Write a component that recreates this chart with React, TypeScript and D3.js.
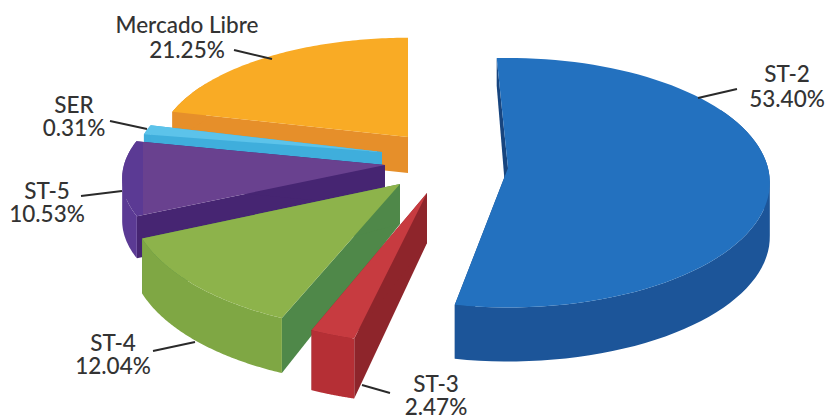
import React from "react";
import * as d3 from "d3";

const categories = ["ST-2", "ST-3", "ST-4", "ST-5", "SER", "Mercado Libre"];
const shares = [53.4, 2.47, 12.04, 10.53, 0.31, 21.25];
const shareLabels = ["53.40%", "2.47%", "12.04%", "10.53%", "0.31%", "21.25%"];

const faceColors = ["#2371BF", "#C73B40", "#8DB34B", "url(#st5Face)", "#5CC3EA", "#F9AB25"];
const rimColors = ["#1C5599", "#B52F35", "#7FA744", "#5B3A94", "#3FAEDC", "#E68F2A"];
const innerColors = ["#17457F", "#8E252B", "#4F8849", "#462572", "#3FAEDC", "#E68F2A"];

// Exploded-slice geometry: apex, in-plane radii, wall heights, angular nudges.
const apexX = [508, 427, 400, 385, 382, 408];
const apexY = [168, 193, 184, 165, 152, 137];
const radiusX = [260, 262, 268, 261, 246, 249];
const radiusY = [123, 133, 130, 113, 110, 111];
const wallApex = [55, 50, 40, 42, 38, 36];
const wallRim = [54, 60, 55, 42, 38, 36];
const innerStartDrop = [28, 60, 55, 42, 38, 36];
const angleNudge = [0.7, 5, 5, 3, 2, 3];
const angleSpread = [1.005, 1, 1, 1, 4.5, 1];
const perspective = 0.118;

const labelX = [787, 436, 113, 47, 74, 187];
const labelY = [82, 392, 351, 199, 113, 33];
const lineGap = [25, 23, 23, 23, 23, 25];
const leaderFrom = [[737, 89], [390, 393], [153, 351], [81, 196], [110, 121], [234, 50]];
const leaderTo = [[698, 98], [362, 385], [195, 342], [122, 191], [147, 129], [272, 59]];

const deg = Math.PI / 180;
const pieAngles = d3
  .pie<number>()
  .sort(null)
  .startAngle(-3 * deg)
  .endAngle(357 * deg)(shares);

type Pt = [number, number];

function rimPoint(i: number, theta: number): Pt {
  const v = -Math.cos(theta);
  const s = 1 / (1 - perspective * v);
  return [apexX[i] + radiusX[i] * Math.sin(theta) * s, apexY[i] + radiusY[i] * v * s];
}

const lineGen = d3.line<Pt>();

function sliceShapes(i: number) {
  const a = pieAngles[i];
  const mid = (a.startAngle + a.endAngle) / 2 + angleNudge[i] * deg;
  const half = ((a.endAngle - a.startAngle) / 2) * angleSpread[i];
  const t0 = mid - half;
  const t1 = mid + half;
  const ts = d3.range(0, 81).map((k) => t0 + ((t1 - t0) * k) / 80);
  const rim = ts.map((t) => rimPoint(i, t));
  const apex: Pt = [apexX[i], apexY[i]];
  const apexLow: Pt = [apexX[i], apexY[i] + wallApex[i]];
  const first = rim[0];
  const last = rim[rim.length - 1];
  // Rim wall as a union of same-winding quads, so folds at the x extremes stay filled.
  const wall = d3
    .pairs(d3.range(rim.length))
    .filter(([p]) => -Math.cos(ts[p]) > -0.5)
    .map(([p, q]) => {
      const quad: Pt[] = [
        rim[p],
        rim[q],
        [rim[q][0], rim[q][1] + wallRim[i]],
        [rim[p][0], rim[p][1] + wallRim[i]],
      ];
      if (d3.polygonArea(quad) < 0) quad.reverse();
      return lineGen(quad)! + "Z";
    })
    .join("");
  return {
    innerA: lineGen([apex, first, [first[0], first[1] + innerStartDrop[i]], apexLow])! + "Z",
    innerB: lineGen([apex, last, [last[0], last[1] + wallRim[i]], apexLow])! + "Z",
    wall,
    face: lineGen([apex, ...rim])! + "Z",
  };
}

const drawOrder = [5, 4, 3, 2, 1, 0];
const font = "Lato, 'Open Sans', sans-serif";

export default function App() {
  return (
    <svg
      width={830}
      height={419}
      viewBox="0 0 830 419"
      style={{ position: "absolute", left: 0, top: 0, background: "#fff" }}
    >
      <defs>
        <linearGradient id="st5Face" gradientUnits="userSpaceOnUse" x1={122} x2={385} y1={0} y2={0}>
          <stop offset="0" stopColor="#5B3A94" />
          <stop offset="0.08" stopColor="#5B3A94" />
          <stop offset="0.08" stopColor="#69418F" />
          <stop offset="1" stopColor="#69418F" />
        </linearGradient>
      </defs>
      {drawOrder.map((i) => {
        const s = sliceShapes(i);
        return (
          <g key={categories[i]}>
            <path d={s.innerA} fill={innerColors[i]} />
            <path d={s.innerB} fill={innerColors[i]} />
            <path d={s.wall} fill={rimColors[i]} />
            <path d={s.face} fill={faceColors[i]} />
          </g>
        );
      })}
      {categories.map((c, i) => (
        <g key={c}>
          <line
            x1={leaderFrom[i][0]}
            y1={leaderFrom[i][1]}
            x2={leaderTo[i][0]}
            y2={leaderTo[i][1]}
            stroke="#2a2a2a"
            strokeWidth={2}
          />
          <text
            textAnchor="middle"
            fontFamily={font}
            fontSize={22.5}
            fontWeight={500}
            fill="#333"
          >
            <tspan x={labelX[i]} y={labelY[i]}>{c}</tspan>
            <tspan x={labelX[i]} y={labelY[i] + lineGap[i]}>{shareLabels[i]}</tspan>
          </text>
        </g>
      ))}
    </svg>
  );
}
